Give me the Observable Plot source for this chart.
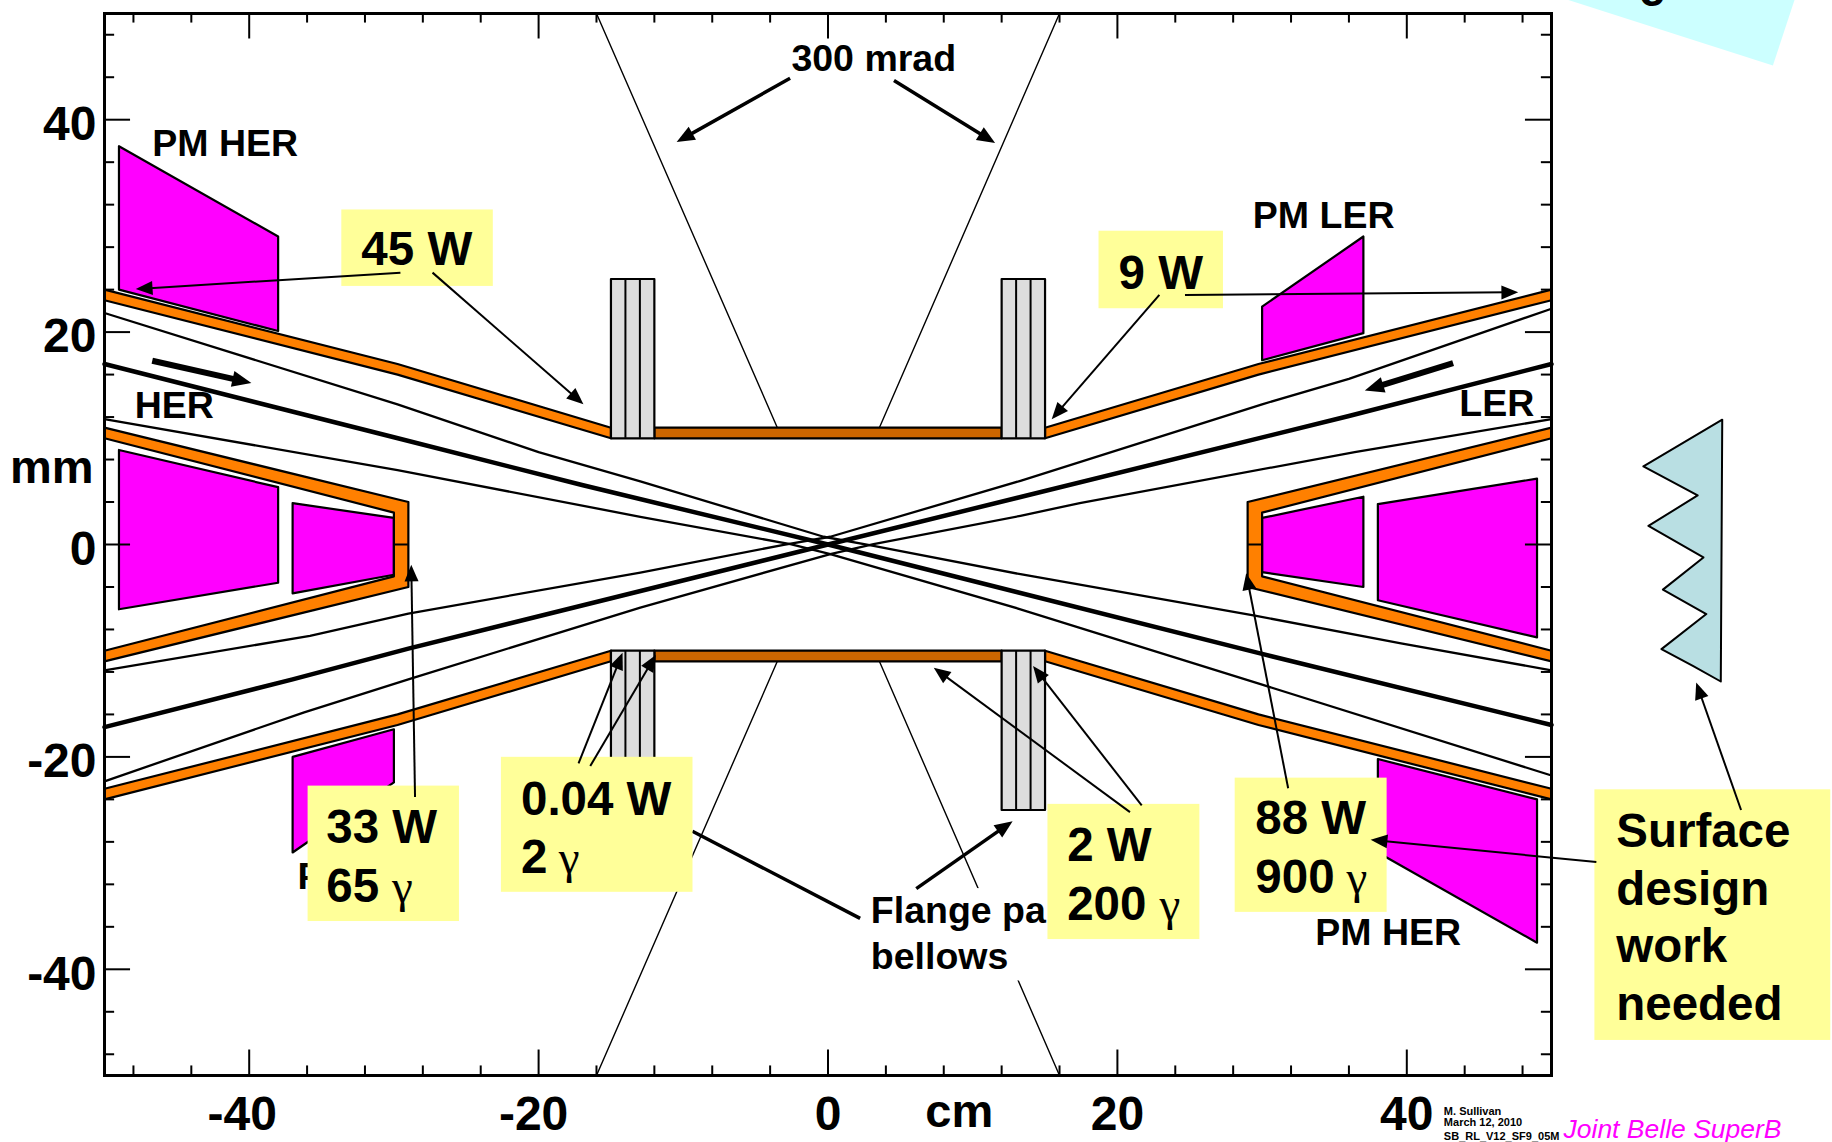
<!DOCTYPE html>
<html><head><meta charset="utf-8">
<style>html,body{margin:0;padding:0;background:#fff;overflow:hidden}svg{display:block}</style>
<script src="https://cdn.jsdelivr.net/npm/d3@7"></script>
<script src="https://cdn.jsdelivr.net/npm/@observablehq/plot@0.6"></script>
</head><body><div id="chart"></div>
<script>
const majorTicks=[-40,-20,0,20,40];
const minorTicks=[-48,-44,-36,-32,-28,-24,-16,-12,-8,-4,4,8,12,16,24,28,32,36,44,48];

const orangeBands=[
 [[-50,24],[-29.75,17],[-15,11],[-15,10],[-29.75,16],[-50,23]],
 [[50,24],[29.75,17],[15,11],[15,10],[29.75,16],[50,23]],
 [[-50,-23],[-29.75,-16],[-15,-10],[-15,-11],[-29.75,-17],[-50,-24]],
 [[50,-23],[29.75,-16],[15,-10],[15,-11],[29.75,-17],[50,-24]],
 [[-50,11],[-29,4],[-29,-4],[-50,-11],[-50,-10],[-30,-3],[-30,3],[-50,10]],
 [[50,11],[29,4],[29,-4],[50,-11],[50,-10],[30,-3],[30,3],[50,10]]
];
const brownBands=[[[-12,11],[12,11],[12,10],[-12,10]],[[-12,-10],[12,-10],[12,-11],[-12,-11]]];
const flanges=[
 [[-15,25],[-12,25],[-12,10],[-15,10]],[[12,25],[15,25],[15,10],[12,10]],
 [[-15,-10],[-12,-10],[-12,-25],[-15,-25]],[[12,-10],[15,-10],[15,-25],[12,-25]]
];
const flangeDividers=[[-14,10,25],[-13,10,25],[13,10,25],[14,10,25],[-14,-25,-10],[-13,-25,-10],[13,-25,-10],[14,-25,-10]];
const magentaShapes=[
 [[-49,37.5],[-38,29],[-38,20.1],[-49,24]],
 [[-49,8.9],[-38,5.4],[-38,-3.6],[-49,-6.1]],
 [[-37,3.9],[-30,2.5],[-30,-2.85],[-37,-4.6]],
 [[-30,-17.4],[-37,-20],[-37,-29],[-30,-22.4]],
 [[30,22.4],[37,29],[37,19.9],[30,17.35]],
 [[30,2.5],[37,4.5],[37,-4],[30,-2.6]],
 [[38,3.8],[49,6.2],[49,-8.75],[38,-5.25]],
 [[38,-20.2],[49,-24],[49,-37.5],[38,-29]]
];
const cyanCorner=[[51.1,51.3],[65.3,45.1],[66.8,51.3]];
const surfaceTeeth=[[61.8,11.75],[56.35,7.35],[60.1,4.62],[56.7,1.75],[60.5,-1.22],[57.7,-4.25],[60.7,-6.55],[57.6,-9.85],[59.8,-11.45],[61.7,-12.9]];

const thickBeams=[
 [[-50,17],[-30,10.1],[-17,5.6],[0,0],[30,-10.3],[50,-17]],
 [[-50,-17.2],[-37,-12.7],[-29,-9.8],[0,0],[36,12.1],[50,17]]
];
const thinBeams=[
 [[-50,21.8],[-29.75,13.2],[-20,8.7],[-12.97,5.95],[-0.3,0.73],[3.15,-0.12],[13.3,-2.8],[29.5,-6.7],[39.6,-9.3],[50,-11.85]],
 [[-50,11.8],[-29.75,7],[-12.97,2.61],[-2.6,0.03],[0.16,-0.9],[13.3,-6.1],[30,-13.2],[50,-21.75]],
 [[-50,-11.85],[-35.8,-8.6],[-29,-6.5],[-12.97,-2.64],[-3.06,-0.03],[0.16,0.73],[13.3,6],[30,13.2],[36,15.6],[50,22.2]],
 [[-50,-22.3],[-36.2,-15.8],[-29,-12.7],[-12.97,-5.94],[0.16,-0.9],[3.15,0.03],[13.3,2.7],[17.4,3.9],[36.4,8.7],[50,11.8]]
];
const mradLines=[
 [[-16,50],[-3.5,11]],[[16,50],[3.55,11]],
 [[-3.5,-11],[-16,-50]],[[3.55,-11],[16,-50]]
];
const yellowBoxes=[
 [-33.6,-23.13,24.3,31.5],[18.73,27.33,22.2,29.5],[-35.93,-25.47,-35.5,-22.75],
 [-22.57,-9.33,-32.75,-20.04],[15.2,25.7,-37.2,-24.47],[28.14,38.64,-34.64,-22],[53,69.3,-46.7,-23.1]
];
const whiteBoxes=[[2.5,15.2,-41.1,-32.4]];
const plainLink=[[2.22,-35.2,-9.37,-27]];
const thinArrows=[
 [-29.55,25.6,-47.84,24.05],[-27.33,25.6,-16.9,13.2],[22.9,23.5,15.46,11.8],[24.67,23.5,47.7,23.75],
 [-28.54,-23.78,-28.8,-1.9],[-17.24,-20.6,-14.2,-10.2],[-16.43,-20.86,-11.9,-10.4],
 [20.87,-25.2,7.31,-11.6],[21.68,-24.57,14.17,-11.44],[31.8,-22.95,28.9,-2.7],
 [53.1,-29.9,37.5,-27.8],[63.1,-25,60,-13]
];
const thickArrows=[[-2.62,43.9,-10.46,37.9],[4.56,43.7,11.55,37.8],[6.1,-32.4,12.76,-26.05]];
const beamArrows=[[-46.7,17.3,-39.85,15.2],[43.2,17.08,37.1,14.5]];

const smallLabels=[
 ["300 mrad",-2.46,44.6],["PM HER",-46.63,36.55],["HER",-47.84,11.9],["PM LER",29.43,29.76],
 ["LER",43.7,12.13],["PM HER",33.75,-37.7],["Flange pa",3.03,-35.63],["bellows",3.03,-39.97]
];
const hiddenLabels=[["PM LER",-36.6,-32.47]];
const bigLabels=[
 ["45 W",-32.18,26.3],["9 W",20.15,24.1],["33 W",-34.6,-28.08],["65",-34.6,-33.68],
 ["0.04 W",-21.15,-25.43],["2",-21.15,-30.93],["2 W",16.6,-29.8],["200",16.6,-35.4],
 ["88 W",29.6,-27.3],["900",29.6,-32.8],
 ["Surface",54.54,-28.45],["design",54.54,-33.9],["work",54.54,-39.35],["needed",54.54,-44.8]
];
const clippedGlyph=[["e",56.1,50.7]];
const gammaLabels=[[-30.07,-33.68],[-18.53,-30.93],[22.97,-35.4],[35.9,-32.8]];
const creditLines=[["M. Sullivan",42.63,-53.7],["March 12, 2010",42.63,-54.8],["SB_RL_V12_SF9_05M",42.63,-56.05]];
const footer=[["Joint Belle SuperB",50.83,-56]];
const axisTitles=[["mm",-50.75,5.77,"end"],["cm",9,-54.85,"middle"]];

const sansBold="Liberation Sans, Arial, sans-serif";
const pxX=1447/100,pxY=1062/100;
const poly=(pts,fill,sw=2.2)=>Plot.line([...pts,pts[0]],{x:d=>d[0],y:d=>d[1],fill,stroke:"black",strokeWidth:sw,strokeMiterlimit:4});
const path=(pts,sw)=>Plot.line(pts,{x:d=>d[0],y:d=>d[1],stroke:"black",strokeWidth:sw});
const shaft=(a,back)=>{const dx=(a[2]-a[0])*pxX,dy=(a[3]-a[1])*pxY,l=Math.hypot(dx,dy),k=(l-back)/l;return [a[0],a[1],a[0]+(a[2]-a[0])*k,a[1]+(a[3]-a[1])*k];};
const head={draw(c,size){const r=Math.sqrt(size/Math.PI);c.moveTo(0,0);c.lineTo(-r/2,r*1.2);c.lineTo(r/2,r*1.2);c.closePath();}};
const arrows=(list,sw,r,back)=>[
 Plot.link(list.map(a=>shaft(a,back)),{x1:d=>d[0],y1:d=>d[1],x2:d=>d[2],y2:d=>d[3],stroke:"black",strokeWidth:sw}),
 Plot.dot(list,{x:d=>d[2],y:d=>d[3],r,symbol:head,fill:"black",stroke:"none",rotate:d=>Math.atan2((d[2]-d[0])*pxX,(d[3]-d[1])*pxY)*180/Math.PI})
];
const rects=(list,fill)=>Plot.rect(list,{x1:d=>d[0],x2:d=>d[1],y1:d=>d[2],y2:d=>d[3],fill,inset:0});
const label=(list,size,extra={})=>Plot.text(list,{text:d=>d[0],x:d=>d[1],y:d=>d[2],fontSize:size,fontWeight:"bold",fontFamily:sansBold,textAnchor:"start",lineAnchor:"bottom",fill:"black",dx:-1,...extra});
const axisFont={label:null,tickSize:0,fontSize:48,fontWeight:"bold",fontFamily:sansBold,tickFormat:d=>String(d),fill:"black"};

const chart=Plot.plot({
 width:1832,height:1142,marginLeft:104,marginRight:281,marginTop:13,marginBottom:67,
 style:{background:"white",overflow:"hidden"},
 x:{domain:[-50,50],axis:null},y:{domain:[-50,50],axis:null},
 marks:[
  poly(cyanCorner,"#CCFFFF",0),
  label(clippedGlyph,47.5),
  poly(surfaceTeeth,"#B9DFE3",2),
  ...magentaShapes.map(p=>poly(p,"#FF00FF")),
  ...mradLines.map(p=>path(p,1.4)),
  ...thinBeams.map(p=>path(p,2.3)),
  ...thickBeams.map(p=>path(p,4.5)),
  ...orangeBands.map(p=>poly(p,"#FF8000")),
  ...brownBands.map(p=>poly(p,"#CC6600")),
  ...flanges.map(p=>poly(p,"#DDDDDD")),
  Plot.ruleX(flangeDividers,{x:d=>d[0],y1:d=>d[1],y2:d=>d[2],stroke:"black",strokeWidth:2}),
  Plot.ruleY([0],{x1:-30,x2:-29,stroke:"black",strokeWidth:2}),
  Plot.ruleY([0],{x1:29,x2:30,stroke:"black",strokeWidth:2}),
  Plot.ruleX(majorTicks,{y1:50,y2:47.6,stroke:"black",strokeWidth:2}),
  Plot.ruleX(majorTicks,{y1:-50,y2:-47.6,stroke:"black",strokeWidth:2}),
  Plot.ruleX(minorTicks,{y1:50,y2:49.1,stroke:"black",strokeWidth:2}),
  Plot.ruleX(minorTicks,{y1:-50,y2:-49.1,stroke:"black",strokeWidth:2}),
  Plot.ruleY(majorTicks,{x1:-50,x2:-48.2,stroke:"black",strokeWidth:2}),
  Plot.ruleY(majorTicks,{x1:50,x2:48.2,stroke:"black",strokeWidth:2}),
  Plot.ruleY(minorTicks,{x1:-50,x2:-49.3,stroke:"black",strokeWidth:2}),
  Plot.ruleY(minorTicks,{x1:50,x2:49.3,stroke:"black",strokeWidth:2}),
  Plot.frame({stroke:"black",strokeWidth:3}),
  Plot.axisX(majorTicks.filter(d=>d>=0),{anchor:"bottom",tickPadding:20,...axisFont}),
  Plot.axisX(majorTicks.filter(d=>d===-20),{anchor:"bottom",tickPadding:20,dx:-5,...axisFont}),
  Plot.axisX(majorTicks.filter(d=>d===-40),{anchor:"bottom",tickPadding:20,dx:-7,...axisFont}),
  Plot.axisY(majorTicks,{anchor:"left",tickPadding:8,dy:5,...axisFont}),
  label(axisTitles.slice(0,1),47,{textAnchor:"end",dx:0}),
  label(axisTitles.slice(1),47,{textAnchor:"middle",dx:1}),
  rects(whiteBoxes,"white"),
  label(hiddenLabels,37.5),
  Plot.link(plainLink,{x1:d=>d[0],y1:d=>d[1],x2:d=>d[2],y2:d=>d[3],stroke:"black",strokeWidth:3.5}),
  rects(yellowBoxes,"#FFFF99"),
  ...arrows(thinArrows,2,14,10),
  ...arrows(thickArrows,3.5,15,10),
  ...arrows(beamArrows,6,16,12),
  label(smallLabels,37.5),
  label(bigLabels,47.5),
  Plot.text(gammaLabels,{x:d=>d[0],y:d=>d[1],text:()=>"γ",fontSize:47,fontFamily:"Liberation Serif, serif",textAnchor:"start",lineAnchor:"bottom",fill:"black",dx:-1}),
  label(creditLines,11),
  Plot.text(footer,{text:d=>d[0],x:d=>d[1],y:d=>d[2],fontSize:26.5,fontStyle:"italic",fontFamily:sansBold,textAnchor:"start",lineAnchor:"bottom",fill:"#FF00FF",dy:-1})
 ]
});
document.getElementById("chart").append(chart);
</script></body></html>
